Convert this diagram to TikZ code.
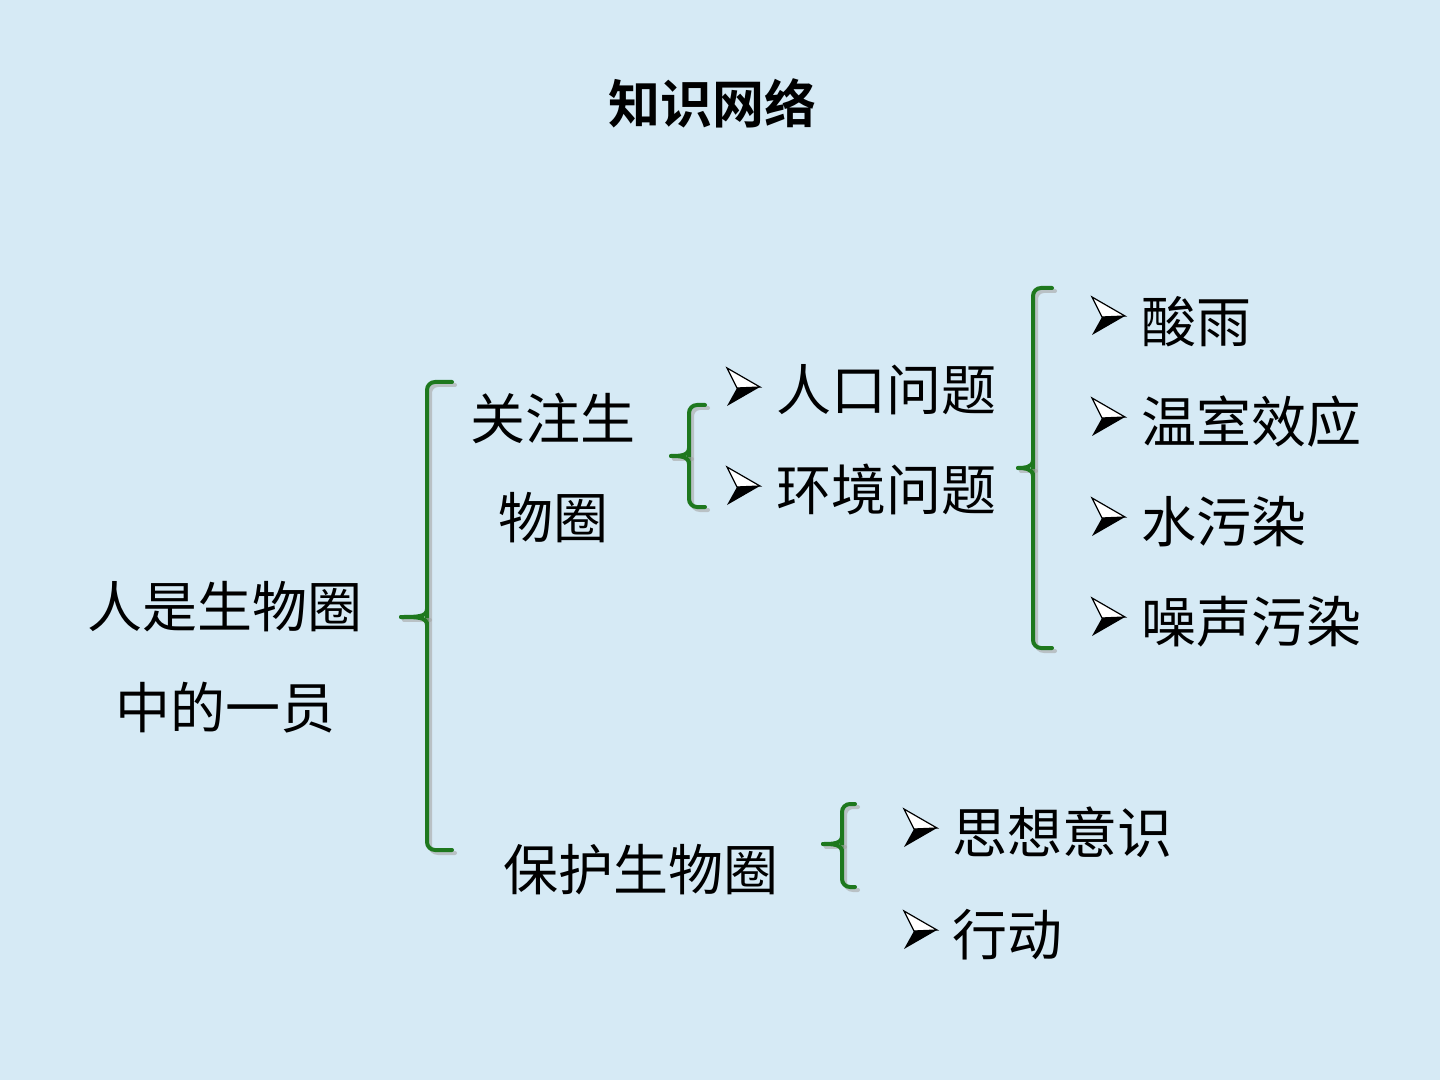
\documentclass[tikz,border=0pt]{standalone}
\usepackage{fontspec}
\newfontfamily\cjk{Noto Sans CJK SC}
\newfontfamily\cjkb{Noto Sans CJK SC Bold}
\definecolor{bgblue}{RGB}{214,234,245}
\definecolor{bracegreen}{RGB}{30,120,30}
\begin{document}
\begin{tikzpicture}[x=0.5pt,y=-0.5pt,
  txt/.style={font=\cjk\fontsize{27.5pt}{32pt}\selectfont, text=black, inner sep=0pt, anchor=center},
  item/.style={txt, anchor=west},
  brc/.style={draw=bracegreen, line width=2pt, rounded corners=4pt, line cap=round},
  brcshadow/.style={draw=gray!70, line width=2pt, rounded corners=4pt, line cap=round, opacity=0.6},
  pics/abul/.style={code={
    \filldraw[fill=white, draw=black, line width=0.6pt, line join=miter] (-33,-19) -- (0,0) -- (-23,1) -- cycle;
    \fill[black] (-23,1) -- (0,0) -- (-33,19) -- cycle;
  }}]
\fill[bgblue] (0,0) rectangle (1440,1080);
\useasboundingbox (0,0) rectangle (1440,1080);

% title
\node[font=\cjkb\fontsize{26pt}{30pt}\selectfont, inner sep=0pt] (title) at (712,103) {知识网络};

% root
\node[txt] (root1) at (225,607) {人是生物圈};
\node[txt] (root2) at (225,708) {中的一员};

% level 2
\node[txt] (gz1) at (553,418) {关注生};
\node[txt] (gz2) at (553,518) {物圈};
\node[txt] (bh) at (641,870) {保护生物圈};

% braces (shadow then green)
\newcommand\bracepath[6]{% xv, ytop, ybot, xright, ytick, xtick
  \draw[brcshadow] ([xshift=1.5pt,yshift=-1.5pt]#4,#2) -- ([xshift=1.5pt,yshift=-1.5pt]#1,#2) -- ([xshift=1.5pt,yshift=-1.5pt]#1,#3) -- ([xshift=1.5pt,yshift=-1.5pt]#4,#3);
  \draw[brc] (#4,#2) -- (#1,#2) -- (#1,#3) -- (#4,#3);
  \draw[draw=gray!70, opacity=0.6, line width=2pt, line cap=round] ([xshift=1.5pt,yshift=-1.5pt]#6,#5) -- ([xshift=1.5pt,yshift=-1.5pt]#1,#5);
  \draw[draw=bracegreen, line width=2pt, line cap=round] (#6,#5) .. controls (#1-10,#5) and (#1,#5) .. (#1,#5-8);
  \draw[draw=bracegreen, line width=2pt, line cap=round] (#6,#5) .. controls (#1-10,#5) and (#1,#5) .. (#1,#5+8);
}
\bracepath{427}{382}{850}{452}{617}{401}
\bracepath{689}{405}{507}{705}{456}{671}
\bracepath{1033}{288}{648}{1052}{468}{1018}
\bracepath{842}{804}{887}{855}{844}{823}

% level 3 items
\pic at (760,387) {abul};
\node[item] (rk) at (776,390) {人口问题};
\pic at (760,486) {abul};
\node[item] (hj) at (776,490) {环境问题};

\pic at (1125,316) {abul};
\node[item] (sy) at (1141,322) {酸雨};
\pic at (1125,417) {abul};
\node[item] (ws) at (1141,422) {温室效应};
\pic at (1125,517) {abul};
\node[item] (sw) at (1141,522) {水污染};
\pic at (1125,617) {abul};
\node[item] (zs) at (1141,622) {噪声污染};

\pic at (937,828) {abul};
\node[item] (sx) at (952,832) {思想意识};
\pic at (937,930) {abul};
\node[item] (xd) at (952,935) {行动};
\end{tikzpicture}
\end{document}
